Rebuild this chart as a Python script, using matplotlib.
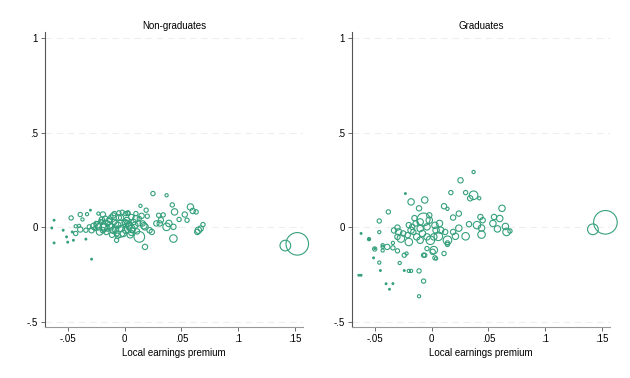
import matplotlib
matplotlib.use("Agg")
import matplotlib.pyplot as plt
import numpy as np

plt.rcParams['font.family'] = ['Liberation Sans', 'DejaVu Sans']

# Non-graduates: earnings premium, outcome, weight (marker radius in px)
ng_x = [-0.062, -0.064, -0.062, -0.054, -0.051, -0.050, -0.046, -0.045, -0.047, -0.043,
        -0.043, -0.039, -0.037, -0.033, -0.030, -0.039, -0.040, -0.034, -0.029, -0.034,
        -0.031, -0.029, -0.026, -0.023, -0.023, -0.019, -0.025, -0.020, -0.018, -0.022,
        -0.016, -0.015, -0.012, -0.009, -0.005, -0.002, 0.001, 0.003, -0.012, -0.009,
        -0.006, -0.003, 0.000, -0.007, -0.007, -0.001, 0.001, -0.010, -0.015, -0.019,
        0.003, 0.003, 0.006, 0.010, 0.013, 0.008, 0.001, 0.004, 0.012, 0.016,
        0.018, 0.022, 0.024, 0.007, 0.013, 0.018, 0.006, 0.020, 0.019, 0.014,
        0.025, 0.037, 0.030, 0.034, 0.042, 0.058, 0.060, 0.063, 0.044, 0.053,
        0.048, 0.055, 0.069, 0.067, 0.065, 0.064, 0.031, 0.039, 0.037, 0.043,
        0.043, 0.032, 0.028, -0.004, -0.013, -0.027, -0.017, -0.008, -0.011, 0.010,
        -0.021, -0.005, 0.005, 0.009, 0.015, -0.024, -0.018, -0.013, -0.008, -0.003,
        0.002, 0.006, -0.020, -0.014, -0.006, 0.004, 0.011, -0.010, 0.017, 0.1415, 0.152]
ng_y = [0.037, -0.004, -0.083, -0.016, -0.051, -0.079, -0.025, -0.069, 0.049, 0.005,
        -0.033, 0.067, 0.041, 0.069, 0.090, -0.012, 0.007, -0.063, -0.169, -0.016,
        0.002, -0.016, -0.007, 0.002, 0.072, 0.067, 0.020, 0.028, 0.002, -0.025,
        -0.025, 0.020, 0.054, 0.072, 0.076, 0.079, 0.072, 0.076, 0.002, 0.028,
        0.011, -0.007, 0.028, -0.033, -0.069, -0.033, -0.016, -0.016, -0.007, -0.016,
        0.020, 0.072, 0.054, 0.072, 0.046, 0.028, 0.020, 0.002, 0.020, 0.020,
        0.002, -0.016, -0.025, -0.016, -0.051, -0.104, -0.030, 0.058, 0.090, 0.113,
        0.178, 0.169, 0.063, 0.065, 0.118, 0.107, 0.086, 0.081, 0.081, 0.067,
        0.041, 0.037, 0.014, -0.007, -0.016, -0.025, 0.020, 0.020, 0.002, 0.002,
        -0.060, 0.037, 0.020, -0.025, 0.010, 0.005, 0.045, -0.010, -0.040, 0.045,
        0.030, 0.050, -0.040, 0.010, 0.060, 0.012, -0.002, 0.040, 0.018, 0.050,
        0.035, -0.008, 0.040, 0.030, -0.045, 0.012, -0.022, 0.062, 0.008, -0.097, -0.088]
ng_w = [1.2, 1.2, 1.2, 1.2, 1.2, 1.2, 1.2, 1.2, 2, 1.5,
        2, 2, 1.5, 1.5, 1.2, 2.5, 1.5, 1.2, 1.2, 2,
        2, 2.5, 2, 3, 1.5, 2.5, 2, 2, 3, 3,
        2.5, 2.5, 2, 2, 2, 2, 2, 2, 3, 2.5,
        3, 3, 2.5, 2.5, 2, 3, 3, 3, 2.5, 2.5,
        3, 2, 2.5, 2, 2, 2.5, 3, 3, 2.5, 2.5,
        3, 2.5, 2.5, 2.5, 5, 2.5, 2.5, 2, 2, 1.5,
        2, 1.5, 2, 2, 2, 3, 2.5, 2, 3, 2.5,
        2, 2, 2, 2.5, 3, 2.5, 2.5, 3, 3.5, 2.5,
        3.5, 2.5, 2.5, 5, 3, 3, 2.5, 3, 2.5, 3,
        2, 2.5, 3, 3, 2.5, 3, 3.5, 2.5, 3, 2.5,
        3, 3.5, 2.5, 3, 2.5, 3, 2.5, 2.5, 3, 5, 10.5]

# Graduates
g_x = [0.037, 0.0255, 0.017, 0.030, 0.037, 0.034, 0.042, -0.023, -0.018, -0.006,
       -0.011, 0.011, 0.014, -0.038, -0.046, 0.024, 0.019, -0.002, -0.007, 0.007,
       -0.015, 0.062, 0.043, 0.055, 0.060, 0.054, 0.065, 0.066, 0.069, 0.058,
       0.045, 0.040, 0.044, 0.044, 0.033, 0.030, -0.062, -0.055, -0.046, -0.050,
       -0.051, -0.046, -0.045, -0.064, -0.062, -0.040, -0.034, -0.037, -0.011, -0.007,
       -0.011, -0.020, -0.018, -0.024, -0.028, -0.024, -0.022, -0.030, -0.034, -0.039,
       -0.043, -0.043, -0.034, -0.007, -0.006, 0.003, 0.004, 0.001, 0.002, 0.011,
       0.014, 0.014, -0.004, -0.033, -0.030, -0.030, -0.027, -0.020, -0.018, -0.016,
       -0.013, -0.010, -0.004, -0.001, 0.002, 0.006, 0.008, 0.014, 0.021, 0.019,
       0.012, -0.010, -0.008, -0.017, -0.014, -0.004, 0.004, -0.025, -0.021, -0.029,
       -0.002, -0.010, -0.020, -0.043, -0.055, -0.050, 0.003, 0.024, 0.142, 0.153]
g_y = [0.292, 0.248, 0.183, 0.183, 0.169, 0.153, 0.153, 0.178, 0.134, 0.144,
       0.100, 0.111, 0.097, 0.081, 0.033, 0.072, 0.051, 0.063, 0.041, 0.020,
       0.048, 0.100, 0.054, 0.054, 0.046, 0.020, 0.004, -0.025, -0.020, -0.009,
       0.037, 0.011, -0.004, -0.039, 0.016, -0.048, -0.033, -0.063, -0.026, -0.113,
       -0.162, -0.187, -0.229, -0.254, -0.254, -0.299, -0.298, -0.328, -0.365, -0.285,
       -0.231, -0.231, -0.231, -0.229, -0.189, -0.148, -0.139, -0.125, -0.109, -0.104,
       -0.104, -0.123, -0.083, -0.148, -0.148, -0.162, -0.165, -0.130, -0.121, -0.139,
       -0.083, -0.091, -0.113, -0.017, -0.002, -0.051, -0.060, -0.078, -0.016, -0.025,
       -0.051, -0.069, -0.051, -0.069, -0.051, -0.048, -0.016, -0.069, -0.048, -0.025,
       -0.025, -0.007, -0.033, 0.002, 0.020, 0.002, -0.016, -0.033, -0.042, -0.025,
       0.037, 0.028, 0.011, -0.095, -0.063, -0.115, 0.010, -0.005, -0.011, 0.026]
g_w = [1.5, 2.5, 2, 2, 4, 2.5, 1.5, 1.2, 3, 3,
       2.5, 2.5, 1.5, 2, 2, 2.5, 2.5, 2.5, 6, 3,
       2.5, 3, 2.5, 2.5, 3, 3, 3, 3.5, 2, 3,
       2.5, 3.5, 3, 3.5, 2.5, 3.5, 1.2, 1.2, 1.5, 1.2,
       1.2, 1.5, 1.2, 1.2, 1.2, 1.2, 1.2, 1.2, 1.5, 2,
       2, 1.5, 1.5, 1.2, 1.5, 2, 1.5, 2, 2, 2.5,
       1.5, 1.5, 1.5, 2, 2, 2, 1.5, 2.5, 3.5, 2,
       2, 2, 2, 2.5, 2.5, 2.5, 3.5, 3.5, 3, 2.5,
       3, 3, 3, 4, 3, 4, 3, 4, 3, 2.5,
       2.5, 3, 3, 2.5, 2.5, 3, 3, 2.5, 2.5, 3,
       3, 3, 2.5, 1.5, 1.5, 2, 3, 3, 5, 11]

panels = [("Non-graduates", ng_x, ng_y, ng_w), ("Graduates", g_x, g_y, g_w)]
xticks = [-0.05, 0, 0.05, 0.1, 0.15]
xtick_labels = ["-.05", "0", ".05", ".1", ".15"]
yticks = [-0.5, 0, 0.5, 1]
ytick_labels = ["-.5", "0", ".5", "1"]

col = '#35a07c'
fig = plt.figure(figsize=(6.3, 3.78), dpi=100)
lefts = [0.0714, 0.5587]

for left, (title, x, y, w) in zip(lefts, panels):
    ax = fig.add_axes([left, 0.1357, 0.4095, 0.7796])
    x = np.array(x)
    y = np.array(y)
    r = np.array(w)
    s = 2.07 * r ** 2 * 1.15
    tiny = r <= 1.3
    ax.scatter(x[~tiny], y[~tiny], s=s[~tiny], facecolors='none', edgecolors=col,
               linewidths=0.8, zorder=3, clip_on=False)
    ax.scatter(x[tiny], y[tiny], s=s[tiny] * 1.3, color=col, linewidths=0, zorder=3)
    ax.set_xlim(-0.07, 0.157)
    ax.set_ylim(-0.526, 1.032)
    for yt in yticks:
        ax.axhline(yt, color='#eeeeee', lw=0.8, ls=(0, (6, 4)), zorder=1)
    ax.set_xticks(xticks)
    ax.set_xticklabels(xtick_labels)
    ax.set_yticks(yticks)
    ax.set_yticklabels(ytick_labels)
    ax.tick_params(labelsize=7, length=3, width=0.6, colors='#555555', labelcolor='black', pad=2)
    for side in ['top', 'right']:
        ax.spines[side].set_visible(False)
    ax.spines['left'].set_color('#555555')
    ax.spines['bottom'].set_color('#999999')
    ax.spines['left'].set_linewidth(0.8)
    ax.spines['bottom'].set_linewidth(0.8)
    ax.set_title(title, fontsize=7, pad=2.5)
    ax.set_xlabel("Local earnings premium", fontsize=7, labelpad=3)

fig.savefig("out.png", dpi=100, facecolor='white')
